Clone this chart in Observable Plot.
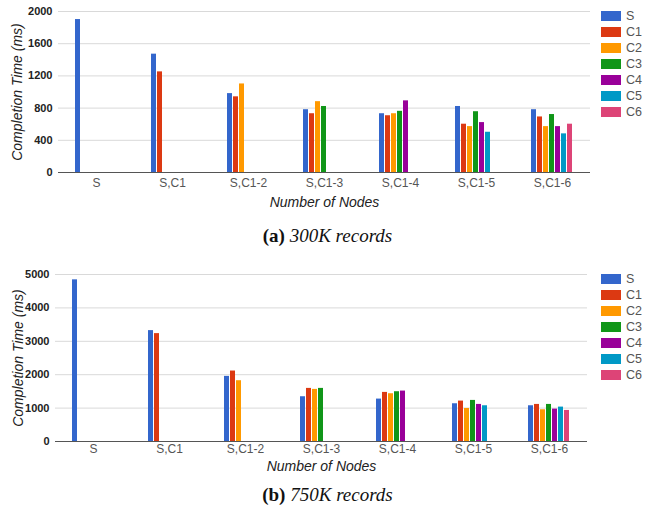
<!DOCTYPE html>
<html>
<head>
<meta charset="utf-8">
<script src="https://cdn.jsdelivr.net/npm/d3@7"></script>
<script src="https://cdn.jsdelivr.net/npm/@observablehq/plot@0.6"></script>
<style>
  html, body { margin: 0; padding: 0; background: #fff; }
  body { width: 655px; height: 508px; position: relative; overflow: hidden; font-family: "Liberation Sans", Arial, sans-serif; }
  .chart { position: absolute; left: 0; }
  .chart svg { font-family: "Liberation Sans", Arial, sans-serif; overflow: visible; }
  .chart svg g[aria-label="y-axis tick label"] { font-weight: bold; fill: #222; }
  .chart svg g[aria-label="y-axis tick label"] text { font-weight: bold; }
  .chart svg g[aria-label="fx-axis tick label"] { fill: #555; font-size: 12px; }
  .chart svg g[aria-label="y-axis label"], .chart svg g[aria-label="fx-axis label"] { font-style: italic; font-size: 14px; fill: #222; }
  .legend { position: absolute; left: 601px; font-family: "Liberation Sans", Arial, sans-serif; font-size: 12.5px; color: #555; }
  .legend .row { position: absolute; left: 0; height: 16px; width: 50px; }
  .legend .sw { position: absolute; left: 0; top: 3px; width: 20px; height: 10px; }
  .legend .lb { position: absolute; left: 25px; top: 1px; line-height: 14px; }
  .caption { position: absolute; left: 0; width: 655px; text-align: center; font-family: "Liberation Serif", "Times New Roman", serif; font-size: 19px; color: #111; }
  .caption b { font-weight: bold; }
  .caption i { font-style: italic; }
</style>
</head>
<body>
<div id="chartA" class="chart" style="top:0px"></div>
<div id="legendA" class="legend" style="top:8px"></div>
<div class="caption" style="top:225px"><b>(a)</b> <i>300K records</i></div>
<div id="chartB" class="chart" style="top:258px"></div>
<div id="legendB" class="legend" style="top:271px"></div>
<div class="caption" style="top:484px"><b>(b)</b> <i>750K records</i></div>
<script>
// ---- data ----
const groups = ["S", "S,C1", "S,C1-2", "S,C1-3", "S,C1-4", "S,C1-5", "S,C1-6"];
const series = ["S", "C1", "C2", "C3", "C4", "C5", "C6"];
const colors = ["#3366cc", "#dc3912", "#ff9900", "#109618", "#990099", "#0099c6", "#dd4477"];
// completion time (ms) per group; entries in series order
const times300K = [
  [1900],
  [1470, 1250],
  [980, 940, 1100],
  [780, 730, 880, 820],
  [730, 705, 730, 760, 890],
  [820, 600, 570, 755, 620, 500],
  [780, 690, 570, 720, 570, 480, 600]
];
const times750K = [
  [4840],
  [3320, 3230],
  [1950, 2110, 1820],
  [1340, 1590, 1560, 1590],
  [1270, 1470, 1430, 1490, 1510],
  [1130, 1210, 990, 1230, 1110, 1070],
  [1070, 1110, 950, 1110, 970, 1030, 930]
];
const ticks300K = [0, 400, 800, 1200, 1600, 2000];
const ticks750K = [0, 1000, 2000, 3000, 4000, 5000];
const yLabel = "Completion Time (ms)";
const xLabel = "Number of Nodes";

function toRows(times) {
  const rows = [];
  times.forEach((vals, gi) => vals.forEach((v, si) => rows.push({group: groups[gi], series: series[si], value: v})));
  return rows;
}

function makeChart(times, ticks, opt) {
  const rows = toRows(times);
  return Plot.plot({
    width: 655,
    height: opt.height,
    marginTop: opt.marginTop,
    marginBottom: opt.marginBottom,
    marginLeft: opt.marginLeft,
    marginRight: 655 - opt.right,
    style: {fontFamily: "Liberation Sans, Arial, sans-serif", fontSize: "11px", color: "#222", background: "white"},
    fx: {domain: groups, padding: 0, label: xLabel, labelAnchor: "center", labelArrow: false, tickSize: 0, tickPadding: opt.fxPad, labelOffset: opt.fxLabelOffset},
    x: {domain: series, axis: null, paddingInner: 0.1, paddingOuter: 2.2},
    y: {domain: [ticks[0], ticks[ticks.length - 1]], ticks: ticks, tickSize: 0, tickPadding: 6, label: yLabel, labelAnchor: "center", labelArrow: false, labelOffset: opt.yLabelOffset, tickFormat: d => String(d)},
    color: {domain: series, range: colors},
    marks: [
      Plot.ruleY(ticks.slice(1), {stroke: "#d9d9d9", strokeWidth: 1}),
      Plot.barY(rows, {fx: "group", x: "series", y: "value", fill: "series"}),
      Plot.ruleY([0], {stroke: "#555", strokeWidth: 1.2})
    ]
  });
}

function styleChart(svg) {
  svg.querySelectorAll('[aria-label="y-axis tick label"] text').forEach(t => {
    t.setAttribute("font-weight", "bold"); t.style.fontWeight = "bold";
  });
  svg.querySelectorAll('[aria-label="y-axis label"] text, [aria-label="fx-axis label"] text').forEach(t => {
    t.style.fontStyle = "italic"; t.style.fontSize = "14px";
    // remove any arrow glyph that an older version may add
    t.textContent = t.textContent.replace(/[\u2191\u2193\u2190\u2192]\s*/g, "").trim();
  });
  return svg;
}

function makeLegend(el) {
  series.forEach((s, i) => {
    const row = document.createElement("div");
    row.className = "row";
    row.style.top = (i * 16) + "px";
    row.innerHTML = `<div class="sw" style="background:${colors[i]}"></div><div class="lb">${s}</div>`;
    el.appendChild(row);
  });
}

document.getElementById("chartA").appendChild(styleChart(makeChart(times300K, ticks300K, {
  height: 212, marginTop: 11, marginBottom: 40, marginLeft: 57, right: 590,
  fxPad: 6, fxLabelOffset: 34, yLabelOffset: 46
})));
document.getElementById("chartB").appendChild(styleChart(makeChart(times750K, ticks750K, {
  height: 216, marginTop: 16, marginBottom: 33, marginLeft: 53, right: 589,
  fxPad: 3, fxLabelOffset: 29, yLabelOffset: 42
})));
makeLegend(document.getElementById("legendA"));
makeLegend(document.getElementById("legendB"));
</script>
</body>
</html>
